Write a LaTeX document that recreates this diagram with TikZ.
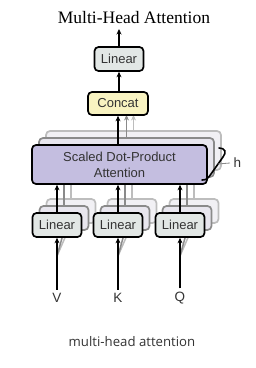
\documentclass[tikz,border=0pt]{standalone}
\usepackage{fontspec}
\setmainfont{Liberation Serif}
\newfontfamily\hvf{Liberation Sans}
\newfontfamily\capf{Open Sans}
\usetikzlibrary{arrows.meta}
\definecolor{lingray}{HTML}{E2E7E5}
\definecolor{concatyel}{HTML}{F8F3C1}
\definecolor{sdpalav}{HTML}{C4BEE0}
\definecolor{copyA}{HTML}{8A8A8A}
\definecolor{copyB}{HTML}{BDBDBD}
\definecolor{copyfillA}{HTML}{E8E6EE}
\definecolor{copyfillB}{HTML}{F1F0F4}
\definecolor{txtgray}{HTML}{333333}
\tikzset{
  box/.style={draw, rounded corners=4pt, line width=1.7pt, inner sep=0pt,
    font=\hvf\fontsize{13}{16}\selectfont, text=txtgray},
  linbox/.style={box, fill=lingray, minimum width=49pt, minimum height=24pt},
  sdpabox/.style={box, fill=sdpalav, minimum width=175pt, minimum height=39pt, align=center},
  concatbox/.style={box, fill=concatyel, minimum width=60pt, minimum height=23pt},
  ghostA/.style={draw=copyA, fill=copyfillA},
  ghostB/.style={draw=copyB, fill=copyfillB},
  arr/.style={line width=1.5pt, -{Stealth[length=5.5pt,width=5pt]}},
  ln/.style={line width=1.5pt},
  lbl/.style={font=\hvf\fontsize{13.5}{13.5}\selectfont, text=txtgray}
}
\begin{document}
\begin{tikzpicture}[x=1pt,y=-1pt]
\useasboundingbox (0,0) rectangle (256,368);
% title
\node[font=\fontsize{17.5}{18}\selectfont] (title) at (134,18) {Multi-Head Attention};
% inputs
\node[lbl] (V) at (57,298) {V};
\node[lbl] (K) at (118,298) {K};
\node[lbl] (Q) at (180,298) {Q};
\coordinate (fv) at (57,256);
\coordinate (fk) at (118,256);
\coordinate (fq) at (180,256);
% ---------- copy 2 ----------
\node[sdpabox, ghostB] (sd2) at (133.5,150.5) {};
\draw[arr, copyB] (sd2.north) -- (sd2.north |- 0,115);
\node[linbox, ghostB] (lv2) at (71,211) {};
\node[linbox, ghostB] (lk2) at (132,211) {};
\node[linbox, ghostB] (lq2) at (194,211) {};
\foreach \n in {lv2,lk2,lq2}{\draw[ln, copyB] (\n.north) -- (\n.north |- sd2.south);}
\draw[ln, copyB] (fv) -- (lv2.south);
\draw[ln, copyB] (fk) -- (lk2.south);
\draw[ln, copyB] (fq) -- (lq2.south);
% ---------- copy 1 ----------
\node[sdpabox, ghostA] (sd1) at (126.5,157.5) {};
\draw[arr, copyA] (sd1.north) -- (sd1.north |- 0,115);
\node[linbox, ghostA] (lv1) at (64,218) {};
\node[linbox, ghostA] (lk1) at (125,218) {};
\node[linbox, ghostA] (lq1) at (187,218) {};
\foreach \n in {lv1,lk1,lq1}{\draw[ln, copyA] (\n.north) -- (\n.north |- sd1.south);}
\draw[ln, copyA] (fv) -- (lv1.south);
\draw[ln, copyA] (fk) -- (lk1.south);
\draw[ln, copyA] (fq) -- (lq1.south);
% ---------- main ----------
\node[sdpabox] (sd) at (119.5,164.5) {Scaled Dot-Product\\Attention};
\node[linbox] (lv) at (57,225) {Linear};
\node[linbox] (lk) at (118,225) {Linear};
\node[linbox] (lq) at (180,225) {Linear};
\node[concatbox] (concat) at (118,103.5) {Concat};
\node[linbox] (lout) at (119,59) {Linear};
\coordinate (top) at (119,29);
\draw[arr] (V.north) -- (lv.south);
\draw[arr] (K.north) -- (lk.south);
\draw[arr] (Q.north) -- (lq.south);
\draw[arr] (lv.north) -- (lv.north |- sd.south);
\draw[arr] (lk.north) -- (lk.north |- sd.south);
\draw[arr] (lq.north) -- (lq.north |- sd.south);
\draw[arr] (concat.south |- sd.north) -- (concat.south);
\draw[arr] (concat.north -| lout.south) -- (lout.south);
\draw[arr] (lout.north) -- (top);
% h brace
\draw[line width=1.6pt, line cap=round] (219,148) .. controls (225,148) and (227,152) .. (223,157)
  -- (211,174) .. controls (208,178) and (207,180) .. (202,180);
\coordinate (hb) at (218,164);
\node[lbl, anchor=west] (h) at (230,163) {h};
\draw[line width=0.8pt, copyA] (hb) -- (h.west);
% caption
\node[font=\capf\fontsize{13.2}{14}\selectfont, text=txtgray] (cap) at (132,342) {multi-head attention};
\end{tikzpicture}
\end{document}
